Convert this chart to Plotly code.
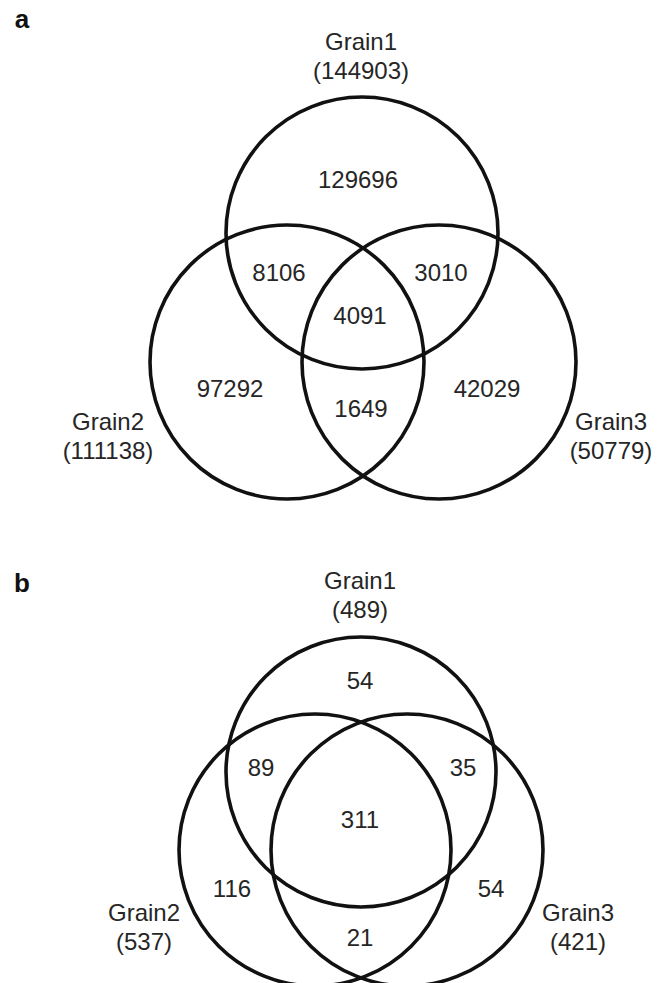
import plotly.graph_objects as go

# ---- data -------------------------------------------------------------
set_names = ["Grain1", "Grain2", "Grain3"]

# region order: only1, 1&2, 1&3, 1&2&3, only2, 2&3, only3
a_regions = [129696, 8106, 3010, 4091, 97292, 1649, 42029]
a_totals = [144903, 111138, 50779]

b_regions = [54, 89, 35, 311, 116, 21, 54]
b_totals = [489, 537, 421]

# ---- layout geometry (pixel space, y grows downward) ------------------
W, H = 662, 983
panels = [
    dict(
        tag="a", tag_xy=(22, 21),
        regions=a_regions, totals=a_totals,
        circles=[(362, 233, 136), (287, 362, 137), (439, 362, 137)],
        region_xy=[(358, 182), (279, 275), (441, 275), (360, 318),
                   (230, 391), (361, 411), (487, 391)],
        name_xy=[(361, 44), (108, 424), (611, 424)],
    ),
    dict(
        tag="b", tag_xy=(22, 585),
        regions=b_regions, totals=b_totals,
        circles=[(361, 772, 135), (315, 850, 136), (407, 850, 136)],
        region_xy=[(360, 683), (261, 770), (463, 770), (360, 822),
                   (232, 891), (360, 940), (491, 891)],
        name_xy=[(360, 583), (144, 915), (578, 915)],
    ),
]

FONT = "Liberation Sans, Arial, sans-serif"
TXT = "#262626"
LINE_GAP = 29
FS = 24

fig = go.Figure()
shapes = []

for p in panels:
    for cx, cy, r in p["circles"]:
        shapes.append(dict(type="circle", xref="x", yref="y",
                           x0=cx - r, x1=cx + r, y0=cy - r, y1=cy + r,
                           line=dict(color="#111111", width=3.6),
                           fillcolor="rgba(0,0,0,0)"))
    # region counts
    fig.add_trace(go.Scatter(
        x=[xy[0] for xy in p["region_xy"]],
        y=[xy[1] for xy in p["region_xy"]],
        mode="text", text=[str(v) for v in p["regions"]],
        textfont=dict(family=FONT, size=FS, color=TXT),
        textposition="middle center", hoverinfo="skip", showlegend=False))
    # set names with totals underneath
    fig.add_trace(go.Scatter(
        x=[xy[0] for xy in p["name_xy"]] * 2,
        y=[xy[1] for xy in p["name_xy"]] + [xy[1] + LINE_GAP for xy in p["name_xy"]],
        mode="text",
        text=set_names + [f"({t})" for t in p["totals"]],
        textfont=dict(family=FONT, size=FS, color=TXT),
        textposition="middle center", hoverinfo="skip", showlegend=False))
    # panel letter
    fig.add_trace(go.Scatter(
        x=[p["tag_xy"][0]], y=[p["tag_xy"][1]], mode="text",
        text=[f"<b>{p['tag']}</b>"],
        textfont=dict(family=FONT, size=26, color="#111111"),
        textposition="middle center", hoverinfo="skip", showlegend=False))

fig.update_layout(
    width=W, height=H,
    margin=dict(l=0, r=0, t=0, b=0),
    paper_bgcolor="white", plot_bgcolor="white",
    shapes=shapes,
    xaxis=dict(range=[0, W], visible=False, fixedrange=True),
    yaxis=dict(range=[H, 0], visible=False, fixedrange=True),
)

fig.write_html("out.html")
